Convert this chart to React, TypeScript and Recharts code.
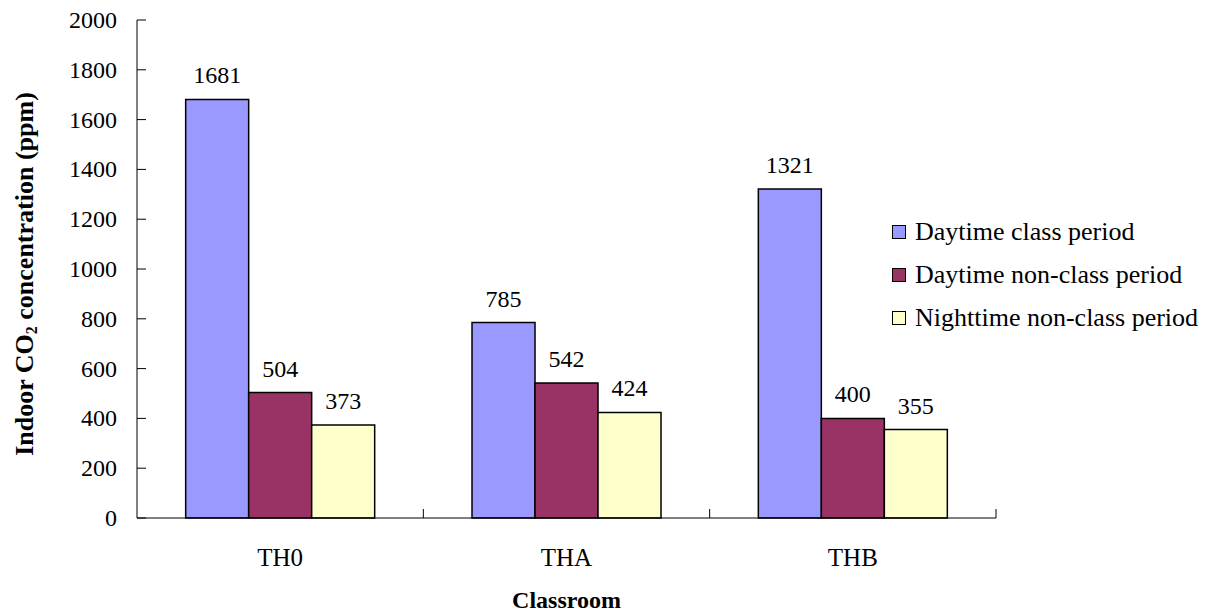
import React from 'react';
import {
  BarChart,
  Bar,
  XAxis,
  YAxis,
  Legend,
  LabelList,
  Label,
} from 'recharts';

const classrooms = ['TH0', 'THA', 'THB'];
const daytimeClass = [1681, 785, 1321];
const daytimeNonClass = [504, 542, 400];
const nighttimeNonClass = [373, 424, 355];
const yTicks = [0, 200, 400, 600, 800, 1000, 1200, 1400, 1600, 1800, 2000];

const seriesInfo = [
  { key: 'dayClass', name: 'Daytime class period', color: '#9999FF' },
  { key: 'dayNonClass', name: 'Daytime non-class period', color: '#993366' },
  { key: 'nightNonClass', name: 'Nighttime non-class period', color: '#FFFFCC' },
];

const data = classrooms.map((room, i) => ({
  room,
  dayClass: daytimeClass[i],
  dayNonClass: daytimeNonClass[i],
  nightNonClass: nighttimeNonClass[i],
}));

const FONT = "'Liberation Serif', 'DejaVu Serif', serif";
const Y_MARGIN = 20;

// y ticks: label to the left, tick mark drawn inside the plot
const YTick = (props: any) => {
  const { x, y, payload } = props;
  const axisX = x + Y_MARGIN;
  return (
    <g>
      <line x1={axisX} x2={axisX + 9} y1={y} y2={y} stroke="#000" strokeWidth={1} />
      <text x={x} y={y} textAnchor="end" dominantBaseline="central" style={{ fontFamily: FONT, fontSize: 24 }} fill="#000">
        {payload.value}
      </text>
    </g>
  );
};

// x ticks: label at category centre, tick mark at the right edge of each band, pointing up
const XTick = (props: any) => {
  const { x, y, payload } = props;
  const half = payload.offset ?? 143;
  return (
    <g>
      <line x1={x + half} x2={x + half} y1={y} y2={y - 9} stroke="#000" strokeWidth={1} />
      <text x={x} y={y + 39} textAnchor="middle" dominantBaseline="central" style={{ fontFamily: FONT, fontSize: 25 }} fill="#000">
        {payload.value}
      </text>
    </g>
  );
};

const YLabel = (props: any) => {
  const vb = props.viewBox;
  const cx = vb.x + 24;
  const cy = vb.y + vb.height / 2 + 5;
  return (
    <text
      x={cx}
      y={cy}
      transform={`rotate(-90 ${cx} ${cy})`}
      textAnchor="middle"
      dominantBaseline="central"
      style={{ fontFamily: FONT, fontSize: 26, fontWeight: 'bold' }}
      fill="#000"
    >
      Indoor CO
      <tspan dy={7} style={{ fontSize: 16 }}>2</tspan>
      <tspan dy={-7}> concentration (ppm)</tspan>
    </text>
  );
};

const LegendContent = () => (
  <div style={{ fontFamily: FONT, fontSize: 26, color: '#000' }}>
    {seriesInfo.map((s) => (
      <div key={s.key} style={{ display: 'flex', alignItems: 'center', height: 43 }}>
        <span
          style={{
            display: 'inline-block',
            width: 12,
            height: 12,
            background: s.color,
            border: '1.5px solid #000',
            marginRight: 9,
            flexShrink: 0,
          }}
        />
        <span style={{ whiteSpace: 'nowrap' }}>{s.name}</span>
      </div>
    ))}
  </div>
);

export default function App() {
  return (
    <div style={{ position: 'absolute', left: 0, top: 0, background: '#fff' }}>
      <BarChart
        width={1210}
        height={614}
        data={data}
        margin={{ top: 20, right: 214, bottom: 0, left: 0 }}
        barCategoryGap="17%"
        barGap={0}
        style={{ fontFamily: FONT }}
      >
        <XAxis
          dataKey="room"
          height={96}
          axisLine={{ stroke: '#000', strokeWidth: 1 }}
          tickLine={false}
          tickSize={0}
          tickMargin={0}
          tick={<XTick />}
          interval={0}
        >
          <Label
            value="Classroom"
            position="insideBottom"
            offset={6}
            style={{ fontFamily: FONT, fontSize: 24, fontWeight: 'bold' }}
            fill="#000"
          />
        </XAxis>
        <YAxis
          width={137}
          domain={[0, 2000]}
          ticks={yTicks}
          interval={0}
          axisLine={{ stroke: '#000', strokeWidth: 1 }}
          tickLine={false}
          tickSize={0}
          tickMargin={Y_MARGIN}
          tick={<YTick />}
        >
          <Label content={<YLabel />} />
        </YAxis>
        <Legend
          layout="vertical"
          align="center"
          verticalAlign="middle"
          content={<LegendContent />}
          wrapperStyle={{ position: 'absolute', left: 892, top: 210, width: 318 }}
        />
        {seriesInfo.map((s) => (
          <Bar
            key={s.key}
            dataKey={s.key}
            name={s.name}
            fill={s.color}
            stroke="#000"
            strokeWidth={1.5}
            isAnimationActive={false}
          >
            <LabelList
              dataKey={s.key}
              position="top"
              offset={16}
              style={{ fontFamily: FONT, fontSize: 24 }}
              fill="#000"
            />
          </Bar>
        ))}
      </BarChart>
    </div>
  );
}
